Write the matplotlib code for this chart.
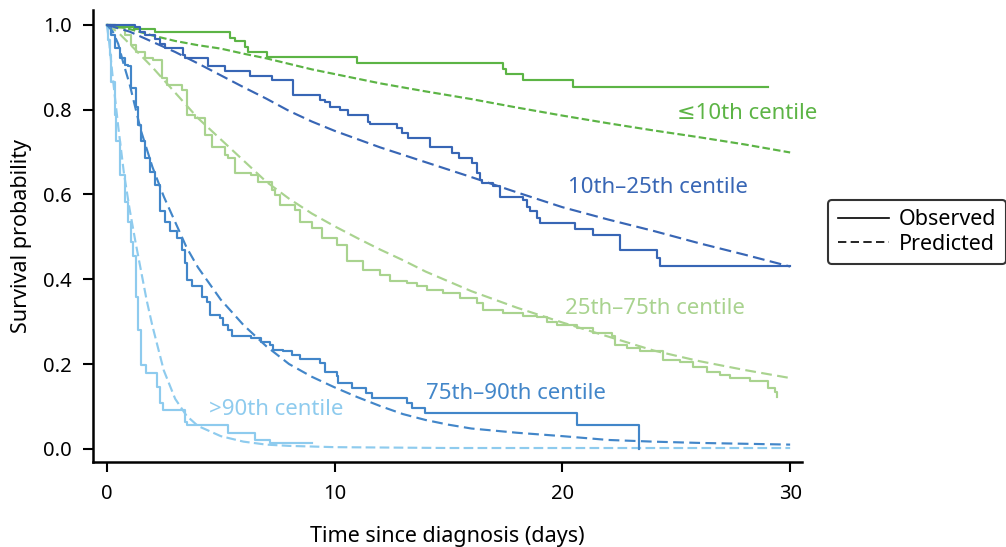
import matplotlib
matplotlib.use("Agg")
import matplotlib.pyplot as plt
from matplotlib.lines import Line2D

plt.rcParams['font.family'] = ['Noto Sans', 'DejaVu Sans']

# ---- Kaplan-Meier (observed) step curves: (time, survival) ----
obs_le10_t = [0, 0.4, 1.2, 2.1, 5.4, 5.62, 6.06, 6.19, 7.03, 10.97, 17.38, 17.52, 18.26, 20.47, 29.03]
obs_le10_s = [1.0, 0.995, 0.99, 0.983, 0.969, 0.961, 0.947, 0.937, 0.924, 0.911, 0.896, 0.884, 0.870, 0.854, 0.854]

obs_10_25_t = [0, 1.23, 1.45, 1.67, 2.11, 2.33, 2.55, 3.35, 3.43, 4.45, 5.18, 6.28, 7.23, 8.17,
               9.35, 9.57, 9.79, 10.23, 10.58, 11.46, 11.55, 12.72, 12.94, 13.22, 14.19, 15.14,
               15.47, 16.02, 16.24, 16.38, 16.46, 16.97, 17.26, 18.28, 18.43, 18.58, 18.87, 19.02,
               20.55, 21.36, 22.53, 24.17, 24.29, 30.0]
obs_10_25_s = [1.0, 0.996, 0.984, 0.975, 0.967, 0.955, 0.945, 0.928, 0.921, 0.904, 0.890, 0.880, 0.870,
               0.835, 0.823, 0.817, 0.807, 0.800, 0.788, 0.772, 0.767, 0.756, 0.746, 0.733, 0.713,
               0.697, 0.686, 0.674, 0.650, 0.634, 0.627, 0.619, 0.595, 0.587, 0.571, 0.560, 0.544,
               0.532, 0.518, 0.505, 0.469, 0.450, 0.432, 0.432]

obs_25_75_t = [0, 0.35, 0.79, 1.08, 1.30, 1.67, 2.03, 2.40, 2.62, 3.28, 3.50, 3.86, 4.30, 4.60,
               5.18, 5.33, 5.62, 6.35, 6.65, 7.23, 7.38, 7.60, 8.26, 8.48, 8.99, 9.43, 10.09,
               10.53, 11.26, 11.99, 12.43, 13.16, 13.60, 14.04, 14.77, 15.50, 16.24, 16.53, 17.40,
               18.28, 18.87, 19.31, 19.75, 20.63, 21.36, 22.16, 22.31, 22.82, 23.41, 24.43, 25.17,
               25.75, 26.34, 26.92, 27.36, 28.24, 29.04, 29.34, 29.41]
obs_25_75_s = [1.0, 0.992, 0.976, 0.953, 0.937, 0.921, 0.917, 0.874, 0.858, 0.847, 0.788, 0.780,
               0.741, 0.713, 0.693, 0.686, 0.650, 0.646, 0.630, 0.610, 0.598, 0.575, 0.564, 0.536,
               0.521, 0.497, 0.481, 0.442, 0.422, 0.410, 0.395, 0.391, 0.383, 0.375, 0.367, 0.355,
               0.344, 0.328, 0.320, 0.314, 0.310, 0.300, 0.292, 0.285, 0.273, 0.265, 0.245, 0.238,
               0.230, 0.210, 0.206, 0.194, 0.182, 0.175, 0.167, 0.159, 0.143, 0.135, 0.123]

obs_75_90_t = [0, 0.2, 0.35, 0.57, 0.79, 0.94, 1.08, 1.30, 1.38, 1.52, 1.67, 1.89, 2.11, 2.33,
               2.55, 2.77, 3.06, 3.28, 3.43, 3.50, 3.72, 4.16, 4.38, 4.52, 4.96, 5.11, 5.33, 5.48,
               6.35, 6.79, 7.16, 7.30, 7.74, 8.11, 8.48, 9.35, 9.57, 10.09, 10.16, 10.75, 11.40,
               11.63, 13.16, 13.38, 13.97, 20.63, 23.35]
obs_75_90_s = [1.0, 0.976, 0.945, 0.921, 0.906, 0.902, 0.851, 0.807, 0.764, 0.725, 0.686, 0.654,
               0.623, 0.560, 0.536, 0.513, 0.497, 0.469, 0.438, 0.399, 0.383, 0.359, 0.347, 0.316,
               0.308, 0.292, 0.281, 0.267, 0.261, 0.253, 0.245, 0.233, 0.230, 0.222, 0.212, 0.202,
               0.182, 0.171, 0.155, 0.143, 0.131, 0.120, 0.108, 0.096, 0.084, 0.057, 0.0]

obs_gt90_t = [0, 0.06, 0.13, 0.20, 0.35, 0.42, 0.57, 0.79, 0.94, 1.08, 1.16, 1.30, 1.38, 1.52,
              1.74, 2.18, 2.33, 2.47, 3.43, 3.50, 5.33, 6.50, 7.16, 9.0]
obs_gt90_s = [1.0, 0.965, 0.929, 0.866, 0.788, 0.725, 0.646, 0.583, 0.536, 0.489, 0.454, 0.359,
              0.281, 0.198, 0.179, 0.147, 0.108, 0.092, 0.064, 0.057, 0.037, 0.022, 0.013, 0.013]

# ---- Model-predicted survival curves ----
pred_le10_t = [0, 0.5, 1, 2, 3, 4, 5, 6, 7, 8, 9, 10, 12, 14, 16, 18, 20, 22, 24, 26, 28, 30]
pred_le10_s = [1.0, 0.997, 0.99, 0.975, 0.962, 0.952, 0.944, 0.932, 0.921, 0.908, 0.895, 0.884,
               0.862, 0.843, 0.825, 0.805, 0.786, 0.768, 0.751, 0.735, 0.718, 0.699]

pred_10_25_t = [0, 1, 2, 3, 4, 5, 6, 7, 8, 9, 10, 12, 14, 16, 18, 20, 22, 24, 26, 28, 30]
pred_10_25_s = [1.0, 0.984, 0.960, 0.936, 0.909, 0.881, 0.853, 0.826, 0.797, 0.772, 0.750, 0.711,
                0.676, 0.641, 0.605, 0.570, 0.541, 0.514, 0.485, 0.458, 0.430]

pred_25_75_t = [0, 0.5, 1, 2, 3, 4, 5, 6, 7, 8, 9, 10, 11, 12, 13, 14, 16, 18, 20, 22, 24, 26, 28, 30]
pred_25_75_s = [1.0, 0.982, 0.955, 0.900, 0.840, 0.780, 0.730, 0.680, 0.630, 0.590, 0.555, 0.525,
                0.497, 0.470, 0.445, 0.418, 0.372, 0.333, 0.298, 0.265, 0.232, 0.207, 0.186, 0.167]

pred_75_90_t = [0, 0.25, 0.5, 0.75, 1, 1.5, 2, 2.5, 3, 3.5, 4, 5, 6, 7, 8, 9, 10, 11, 12, 13, 14,
                15, 16, 18, 20, 22, 24, 26, 28, 30]
pred_75_90_s = [1.0, 0.985, 0.955, 0.905, 0.86, 0.75, 0.665, 0.595, 0.535, 0.475, 0.428, 0.352,
                0.292, 0.242, 0.200, 0.170, 0.145, 0.122, 0.101, 0.082, 0.068, 0.057, 0.048, 0.038,
                0.030, 0.021, 0.017, 0.014, 0.012, 0.010]

pred_gt90_t = [0, 0.1, 0.25, 0.5, 0.75, 1.0, 1.25, 1.5, 1.75, 2.0, 2.5, 3.0, 3.5, 4, 5, 6, 7, 8,
               10, 15, 20, 30]
pred_gt90_s = [1.0, 0.96, 0.88, 0.76, 0.65, 0.565, 0.49, 0.42, 0.35, 0.29, 0.185, 0.118, 0.078,
               0.054, 0.030, 0.017, 0.010, 0.007, 0.004, 0.002, 0.002, 0.002]

group_labels = ['\u226410th centile', '10th\u201325th centile', '25th\u201375th centile',
                '75th\u201390th centile', '>90th centile']
x_ticks = [0, 10, 20, 30]
y_ticks = [0.0, 0.2, 0.4, 0.6, 0.8, 1.0]

c_le10 = '#5cb445'
c_10_25 = '#3866b5'
c_25_75 = '#a9d38f'
c_75_90 = '#4286c9'
c_gt90 = '#8ecbee'

fig = plt.figure(figsize=(10.06, 5.47), dpi=100)
ax = fig.add_axes([0.0924, 0.1554, 0.7048, 0.8263])

lw = 1.55
groups = [
    (obs_25_75_t, obs_25_75_s, pred_25_75_t, pred_25_75_s, c_25_75, (0, (5, 2.5))),
    (obs_gt90_t, obs_gt90_s, pred_gt90_t, pred_gt90_s, c_gt90, (0, (4.5, 2))),
    (obs_75_90_t, obs_75_90_s, pred_75_90_t, pred_75_90_s, c_75_90, (0, (5, 2.5))),
    (obs_le10_t, obs_le10_s, pred_le10_t, pred_le10_s, c_le10, (0, (3.5, 1.5))),
    (obs_10_25_t, obs_10_25_s, pred_10_25_t, pred_10_25_s, c_10_25, (0, (5.5, 2.5))),
]
for ot, os_, pt, ps, col, dash in groups:
    ax.plot(ot, os_, drawstyle='steps-post', color=col, lw=lw)
    ax.plot(pt, ps, color=col, lw=lw, linestyle=dash)

# Group labels
fs = 16
ax.text(28.1, 0.79, group_labels[0], color=c_le10, fontsize=fs, ha='center', va='center')
ax.text(24.2, 0.616, group_labels[1], color=c_10_25, fontsize=fs, ha='center', va='center')
ax.text(24.05, 0.33, group_labels[2], color=c_25_75, fontsize=fs, ha='center', va='center')
ax.text(17.98, 0.13, group_labels[3], color=c_75_90, fontsize=fs, ha='center', va='center')
ax.text(7.42, 0.092, group_labels[4], color=c_gt90, fontsize=fs, ha='center', va='center')

ax.set_xlim(-0.61, 30.52)
ax.set_ylim(-0.031, 1.035)
ax.set_xticks(x_ticks)
ax.set_yticks(y_ticks)
ax.set_yticklabels([f'{v:.1f}' for v in y_ticks])
ax.tick_params(axis='both', labelsize=14.5, length=7, width=1.5, color='black')
ax.tick_params(axis='x', pad=9)
ax.tick_params(axis='y', pad=8)
for side in ('top', 'right'):
    ax.spines[side].set_visible(False)
for side in ('left', 'bottom'):
    ax.spines[side].set_linewidth(1.8)

ax.set_xlabel('Time since diagnosis (days)', fontsize=15.5, labelpad=16)
ax.set_ylabel('Survival probability', fontsize=15.5, labelpad=8)

handles = [Line2D([], [], color='black', lw=1.2),
           Line2D([], [], color='black', lw=1.2, linestyle=(0, (5, 2.6)))]
leg = fig.legend(handles, ['Observed', 'Predicted'], loc='center left',
                 bbox_to_anchor=(828 / 1006, 1 - 232 / 547), fontsize=15.5,
                 frameon=True, fancybox=True, handlelength=2.4, handletextpad=0.45,
                 borderpad=0.45, labelspacing=0.15, borderaxespad=0)
leg.get_frame().set_edgecolor('black')
leg.get_frame().set_linewidth(1.5)

fig.savefig('out.png', dpi=100)
